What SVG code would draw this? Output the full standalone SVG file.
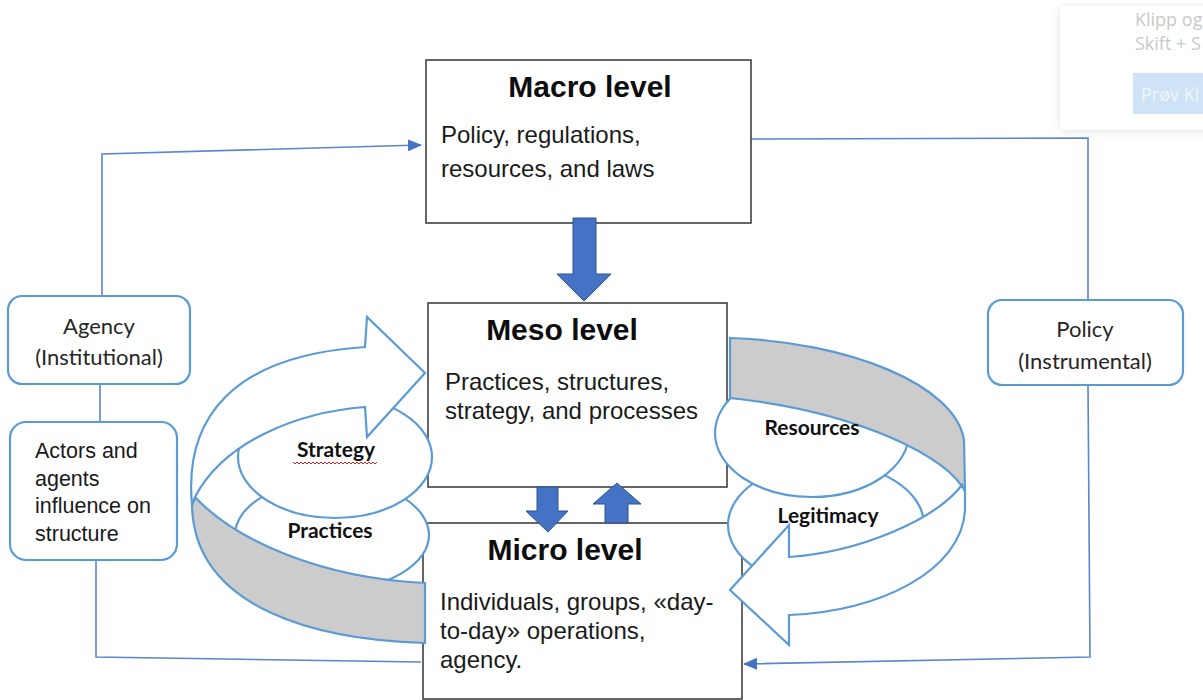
<svg xmlns="http://www.w3.org/2000/svg" width="1203" height="700" viewBox="0 0 1203 700">
  <defs>
    <style>
      .box { fill: #ffffff; stroke: #404040; stroke-width: 1.6; }
      .rbox { fill: #ffffff; stroke: #5B9BD5; stroke-width: 2.2; }
      .title { font-family: "Liberation Sans", Arial, sans-serif; font-weight: bold; font-size: 30px; fill: #0d0d0d; text-anchor: middle; }
      .body { font-family: "Liberation Sans", Arial, sans-serif; font-size: 24px; fill: #1a1a1a; }
      .side { font-family: Lato, "Noto Sans", sans-serif; font-size: 22px; fill: #262626; text-anchor: middle; }
      .lbl { font-family: Lato, "Noto Sans", sans-serif; font-weight: bold; font-size: 21px; fill: #111111; text-anchor: middle; }
      .conn { fill: none; stroke: #5A85D0; stroke-width: 1.6; }
      .block { fill: #4472C4; stroke: #2F528F; stroke-width: 1; }
      .band { fill: #ffffff; stroke: #5B9BD5; stroke-width: 2.2; stroke-linejoin: miter; }
      .grey { fill: #CCCCCC; stroke: #5B9BD5; stroke-width: 2.2; }
      .pop { font-family: "Open Sans", "Noto Sans", sans-serif; font-size: 18px; fill: #C9C9C9; }
    </style>
    <marker id="arr" viewBox="0 0 14 12" refX="13" refY="6" markerWidth="14" markerHeight="12" markerUnits="userSpaceOnUse" orient="auto">
      <path d="M0,0 L14,6 L0,12 Z" fill="#4472C4"/>
    </marker>
    <filter id="soft" x="-20%" y="-20%" width="140%" height="140%">
      <feDropShadow dx="0" dy="1" stdDeviation="4" flood-color="#000000" flood-opacity="0.12"/>
    </filter>
  </defs>

  <rect width="1203" height="700" fill="#ffffff"/>

  <!-- floating hint card, top right -->
  <g id="hint-card">
    <rect x="1060" y="6" width="170" height="124" rx="4" fill="#ffffff" filter="url(#soft)"/>
    <text class="pop" x="1135" y="26">Klipp og</text>
    <text class="pop" x="1135" y="50">Skift + S</text>
    <rect x="1133" y="73" width="90" height="41" fill="#CFE3F6"/>
    <text class="pop" x="1141" y="101" style="fill:#EEF5FC">Prøv Kl</text>
  </g>

  <!-- feedback connectors -->
  <g id="connectors">
    <path class="conn" d="M102,296 L102,154 L421,145" marker-end="url(#arr)"/>
    <path class="conn" d="M100,384 L100,422"/>
    <path class="conn" d="M96,560 L96,657 L421,662"/>
    <path class="conn" d="M751,139 L1088,138 L1088,300"/>
    <path class="conn" d="M1088,385 L1090,657 L744,664" marker-end="url(#arr)"/>
  </g>

  <g id="macro">
    <rect class="box" x="426" y="60" width="325" height="163"/>
    <text class="title" x="590" y="97">Macro level</text>
    <text class="body" x="441" y="143">Policy, regulations,</text>
    <text class="body" x="441" y="177">resources, and laws</text>
  </g>

  <g id="meso">
    <rect class="box" x="428" y="303" width="299" height="184"/>
    <text class="title" x="562" y="340">Meso level</text>
    <text class="body" x="445" y="390">Practices, structures,</text>
    <text class="body" x="445" y="419">strategy, and processes</text>
  </g>

  <g id="micro">
    <rect class="box" x="423" y="523" width="319" height="176"/>
    <text class="title" x="565" y="560">Micro level</text>
    <text class="body" x="440" y="610">Individuals, groups, «day-</text>
    <text class="body" x="440" y="639">to-day» operations,</text>
    <text class="body" x="440" y="668">agency.</text>
  </g>

  <!-- block arrows between levels -->
  <g id="macro-to-meso">
    <polygon class="block" points="573,218 596,218 596,274 611,274 584,301 557,274 573,274"/>
  </g>
  <g id="meso-to-micro">
    <polygon class="block" points="537,487 558,487 558,511 568,511 548,532 526,511 537,511"/>
  </g>
  <g id="micro-to-meso">
    <polygon class="block" points="605,523 628,523 628,504 641,504 617,483 593,504 605,504"/>
  </g>

  <g id="agency">
    <rect class="rbox" x="8" y="296" width="182" height="88" rx="14"/>
    <text class="side" x="99" y="334">Agency</text>
    <text class="side" x="99" y="365">(Institutional)</text>
  </g>

  <g id="actors">
    <rect class="rbox" x="10" y="422" width="167" height="138" rx="16"/>
    <text class="body" x="35" y="458" style="font-size:21.5px">Actors and</text>
    <text class="body" x="35" y="486" style="font-size:21.5px">agents</text>
    <text class="body" x="35" y="513" style="font-size:21.5px">influence on</text>
    <text class="body" x="35" y="541" style="font-size:21.5px">structure</text>
  </g>

  <g id="policy">
    <rect class="rbox" x="988" y="300" width="195" height="85" rx="14"/>
    <text class="side" x="1085" y="337">Policy</text>
    <text class="side" x="1085" y="369">(Instrumental)</text>
  </g>

  <!-- left spiral: practices -> strategy -> meso -->
  <g id="left-cycle">
    <ellipse class="band" cx="332" cy="535" rx="97" ry="55"/>
    <path class="grey" d="M195,497 C235,540 320,578 425,583 L425,643 C320,640 194,610 192,505 Z"/>
    <ellipse class="band" cx="335" cy="457" rx="97" ry="61"/>
    <path class="band" d="M192,505 C184,420 230,356 365,347 L367,317 L425,373 L367,437 L365,407 C300,412 225,440 195,497 Z"/>
    <text class="lbl" x="336" y="457">Strategy</text>
    <path d="M293,462 l2,2 l2,-2 l2,2 l2,-2 l2,2 l2,-2 l2,2 l2,-2 l2,2 l2,-2 l2,2 l2,-2 l2,2 l2,-2 l2,2 l2,-2 l2,2 l2,-2 l2,2 l2,-2 l2,2 l2,-2 l2,2 l2,-2 l2,2 l2,-2 l2,2 l2,-2 l2,2 l2,-2 l2,2 l2,-2 l2,2 l2,-2 l2,2 l2,-2 l2,2 l2,-2 l2,2 l2,-2 l2,2 l2,-2" fill="none" stroke="#E02020" stroke-width="1"/>
    <text class="lbl" x="330" y="538">Practices</text>
  </g>

  <!-- right spiral: resources -> legitimacy -> micro -->
  <g id="right-cycle">
    <ellipse class="band" cx="826" cy="525" rx="98" ry="62"/>
    <ellipse class="band" cx="812" cy="433" rx="97" ry="64"/>
    <path class="grey" d="M730,338 C850,342 955,385 964,440 L965,492 C950,458 860,412 730,398 Z"/>
    <path class="band" d="M965,492 L965,510 C962,570 880,612 789,615 L789,645 L730,590 L789,525 L789,557 C860,552 935,520 962,485 Z"/>
    <text class="lbl" x="812" y="435">Resources</text>
    <text class="lbl" x="828" y="523">Legitimacy</text>
  </g>
</svg>
